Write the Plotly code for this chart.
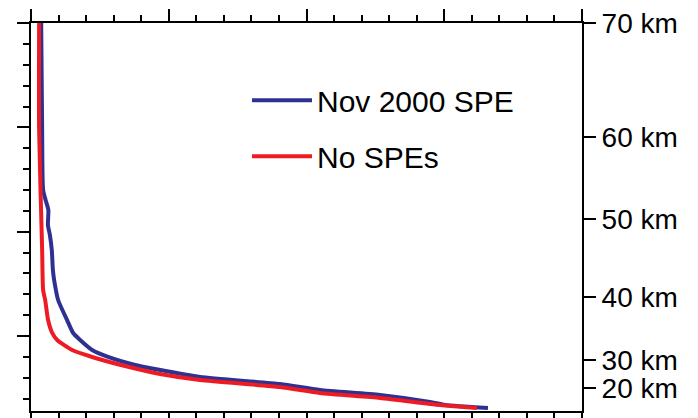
import plotly.graph_objects as go

# Profile data (x: quantity, y: vertical coordinate on left axis)
blue_x = [0.073, 0.080, 0.087, 0.105, 0.125, 0.122, 0.136, 0.150, 0.158, 0.167, 0.196,
          0.261, 0.305, 0.356, 0.443, 0.559, 0.755, 0.900, 1.227, 1.808, 2.098, 2.534,
          2.897, 3.005, 3.318]
blue_y = [3.000, 1.975, 1.400, 1.304, 1.208, 1.064, 0.969, 0.825, 0.633, 0.537, 0.345,
          0.153, 0.029, -0.038, -0.134, -0.201, -0.278, -0.316, -0.393, -0.460, -0.518,
          -0.566, -0.633, -0.661, -0.690]

red_x = [0.058, 0.058, 0.080, 0.087, 0.102, 0.123, 0.153, 0.189, 0.298, 0.443, 0.682,
         0.937, 1.227, 1.808, 2.098, 2.534, 2.969, 3.238]
red_y = [3.000, 1.975, 0.825, 0.441, 0.345, 0.153, 0.029, -0.038, -0.134, -0.201, -0.288,
         -0.364, -0.422, -0.489, -0.547, -0.594, -0.661, -0.690]

series_names = ["Nov 2000 SPE", "No SPEs"]

km_labels = ["70 km", "60 km", "50 km", "40 km", "30 km", "20 km"]
km_positions = [3.000, 1.908, 1.122, 0.374, -0.230, -0.499]

x_range = [-0.001, 4.001]
y_range = [-0.719, 3.001]

BLUE = "#2e3192"
RED = "#ed1c24"
FONT = "Liberation Sans, Arial, sans-serif"

fig = go.Figure()
fig.add_trace(go.Scatter(x=blue_x, y=blue_y, mode="lines", name=series_names[0],
                         legendgroup="a",
                         line=dict(color=BLUE, width=4, shape="spline", smoothing=0.6)))
fig.add_trace(go.Scatter(x=red_x, y=red_y, mode="lines", name=series_names[1],
                         legendgroup="b",
                         line=dict(color=RED, width=4, shape="spline", smoothing=0.6)))
# invisible trace to activate the twin (top/right) axes
fig.add_trace(go.Scatter(x=[x_range[0]], y=[y_range[0]], xaxis="x2", yaxis="y2",
                         mode="markers", marker=dict(opacity=0), showlegend=False,
                         hoverinfo="skip"))

common = dict(showgrid=False, zeroline=False, showline=True, linecolor="black",
              linewidth=2, ticks="outside", ticklen=12, tickwidth=2, tickcolor="black",
              automargin=False)
minor = dict(dtick=0.2, ticks="outside", ticklen=6, tickwidth=1.5, tickcolor="black")

# The page body keeps its default 8px margin, so the figure is sized/margined to
# place the plot frame where the reference has it inside the 698x418 window.
fig.update_layout(
    template="none",
    width=690, height=410,
    margin=dict(l=23, r=116, t=15, b=7),
    plot_bgcolor="white", paper_bgcolor="white",
    font=dict(family=FONT, size=28, color="black"),
    xaxis=dict(range=x_range, dtick=1, tick0=0, showticklabels=False, minor=minor,
               anchor="y", **common),
    yaxis=dict(range=y_range, dtick=1, tick0=0, showticklabels=False, minor=minor,
               anchor="x", **common),
    xaxis2=dict(range=x_range, dtick=1, tick0=0, showticklabels=False, minor=minor,
                overlaying="x", side="top", anchor="y2", **common),
    yaxis2=dict(range=y_range, overlaying="y", side="right", anchor="x2",
                tickmode="array", tickvals=km_positions, ticktext=km_labels,
                ticklabelstandoff=0, ticklabeloverflow="allow", **common),
    legend=dict(x=0.392, y=0.868, xanchor="left", yanchor="top",
                bgcolor="rgba(0,0,0,0)", font=dict(size=30, family=FONT),
                tracegroupgap=14, itemwidth=60),
    showlegend=True,
)

fig.write_html("out.html", config={"displayModeBar": False})
